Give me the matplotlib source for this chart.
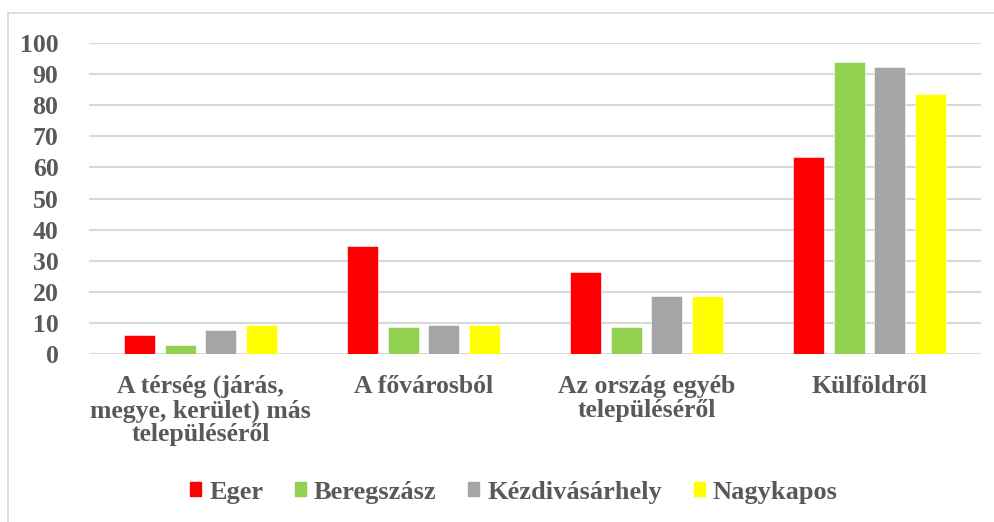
import matplotlib
matplotlib.use("Agg")
import matplotlib.pyplot as plt
import numpy as np
from matplotlib.patches import Rectangle
from matplotlib.lines import Line2D

categories = ["A térség (járás,\nmegye, kerület) más\ntelepüléséről",
              "A fővárosból",
              "Az ország egyéb\ntelepüléséről",
              "Külföldről"]
series_names = ["Eger", "Beregszász", "Kézdivásárhely", "Nagykapos"]
eger = [6.1, 34.8, 26.5, 63.3]
beregszasz = [2.9, 8.7, 8.7, 94.0]
kezdivasarhely = [7.8, 9.4, 18.8, 92.2]
nagykapos = [9.4, 9.3, 18.6, 83.7]
colors = ["#FF0000", "#92D050", "#A5A5A5", "#FFFF00"]
yticks = [0, 10, 20, 30, 40, 50, 60, 70, 80, 90, 100]

plt.rcParams['font.family'] = ['Liberation Serif', 'DejaVu Serif']
plt.rcParams['font.weight'] = 'bold'
txt = "#595959"

fig = plt.figure(figsize=(9.95, 5.22), dpi=100)
ax = fig.add_axes([89/995, 1 - 354/522, (981 - 89)/995, (354 - 43)/522])

data = [eger, beregszasz, kezdivasarhely, nagykapos]
x = np.arange(len(categories))
pitch = 0.182
width = 0.139
for i, (vals, c, name) in enumerate(zip(data, colors, series_names)):
    ax.bar(x + (i - 1.5) * pitch, vals, width=width, color=c, label=name,
           edgecolor="white", linewidth=0.4, zorder=3)

ax.set_xlim(-0.5, 3.5)
ax.set_ylim(0, 100)
ax.set_yticks(yticks)
ax.set_yticklabels([str(v) for v in yticks], fontsize=18.5, color=txt, fontweight='bold')
ax.yaxis.grid(True, color="#D9D9D9", linewidth=1.5, zorder=0)
ax.set_axisbelow(True)
ax.set_xticks(x)
ax.set_xticklabels(categories, fontsize=18.5, color=txt, fontweight='bold', linespacing=1.05, va='top')
ax.tick_params(axis='both', length=0)
ax.tick_params(axis='x', pad=15)
ax.tick_params(axis='y', pad=22)
for s in ax.spines.values():
    s.set_visible(False)

handles = [Rectangle((0, 0), 1, 1, color=c) for c in colors]
leg = fig.legend(handles, series_names, loc='center', bbox_to_anchor=(514/995, 1 - 492/522),
                 ncol=4, frameon=False, fontsize=19, handlelength=0.42, handleheight=0.42,
                 handletextpad=0.3, columnspacing=1.2, borderaxespad=0)
for t in leg.get_texts():
    t.set_color(txt)
    t.set_fontweight('bold')

# chart border (left and top visible)
fig.add_artist(Line2D([8/995, 8/995], [0, 1 - 13/522], transform=fig.transFigure, color="#D9D9D9", lw=1.2))
fig.add_artist(Line2D([8/995, 1], [1 - 13/522, 1 - 13/522], transform=fig.transFigure, color="#D9D9D9", lw=1.2))

fig.savefig("out.png", dpi=100, facecolor="white")
